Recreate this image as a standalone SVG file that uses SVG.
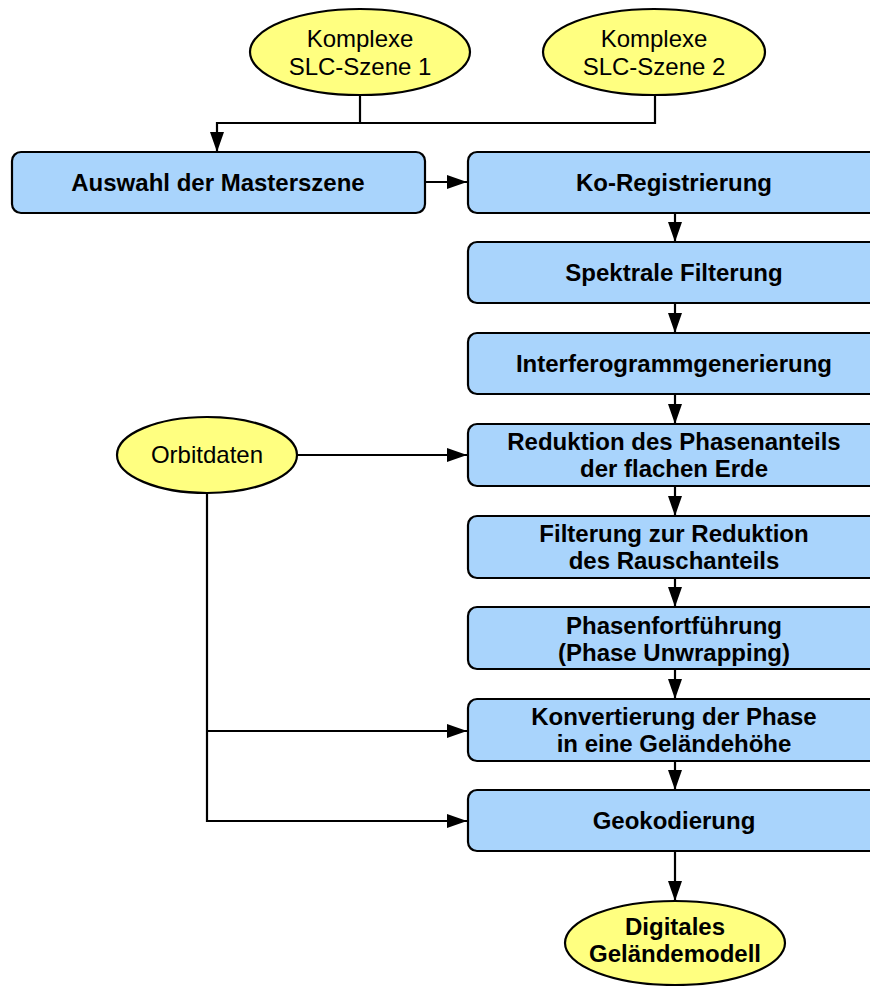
<svg xmlns="http://www.w3.org/2000/svg" width="870" height="986" viewBox="0 0 870 986">
  <style>
    .box { fill: #a9d4fc; stroke: #000; stroke-width: 2.2; }
    .ell { fill: #ffff80; stroke: #000; stroke-width: 2.2; }
    .b { font-family: "Liberation Sans", Arial, sans-serif; font-size: 24px; font-weight: bold; text-anchor: middle; fill: #000; }
    .r { font-family: "Liberation Sans", Arial, sans-serif; font-size: 24px; text-anchor: middle; fill: #000; }
    .c { fill: none; stroke: #000; stroke-width: 2.2; }
  </style>
  <defs>
    <marker id="arr" viewBox="0 0 20 14" refX="20" refY="7" markerWidth="20" markerHeight="14" markerUnits="userSpaceOnUse" orient="auto">
      <path d="M0,0 L20,7 L0,14 Z" fill="#000"/>
    </marker>
  </defs>
  <rect width="870" height="986" fill="#fff"/>

  <!-- connectors -->
  <g id="connectors">
    <path class="c" d="M360,95 V123"/>
    <path class="c" d="M655,95 V123 H217 V152" marker-end="url(#arr)"/>
    <path class="c" d="M425,182 H467" marker-end="url(#arr)"/>
    <path class="c" d="M675,213 V242" marker-end="url(#arr)"/>
    <path class="c" d="M675,303 V333" marker-end="url(#arr)"/>
    <path class="c" d="M675,394 V424" marker-end="url(#arr)"/>
    <path class="c" d="M675,486 V516" marker-end="url(#arr)"/>
    <path class="c" d="M675,578 V607" marker-end="url(#arr)"/>
    <path class="c" d="M675,669 V699" marker-end="url(#arr)"/>
    <path class="c" d="M675,761 V790" marker-end="url(#arr)"/>
    <path class="c" d="M675,851 V901" marker-end="url(#arr)"/>
    <path class="c" d="M297,455 H467" marker-end="url(#arr)"/>
    <path class="c" d="M207,493 V821 H467" marker-end="url(#arr)"/>
    <path class="c" d="M207,731 H467" marker-end="url(#arr)"/>
  </g>

  <g id="slc1">
    <ellipse class="ell" cx="360" cy="52" rx="110" ry="43"/>
    <text class="r" x="360" y="47">Komplexe</text>
    <text class="r" x="360" y="75">SLC-Szene 1</text>
  </g>
  <g id="slc2">
    <ellipse class="ell" cx="654" cy="52" rx="111" ry="43"/>
    <text class="r" x="654" y="47">Komplexe</text>
    <text class="r" x="654" y="75">SLC-Szene 2</text>
  </g>

  <g id="masterszene">
    <rect class="box" x="12" y="152" width="413" height="61" rx="9"/>
    <text class="b" x="218" y="191">Auswahl der Masterszene</text>
  </g>
  <g id="koregistrierung">
    <rect class="box" x="468" y="152" width="412" height="61" rx="9"/>
    <text class="b" x="674" y="191">Ko-Registrierung</text>
  </g>
  <g id="filterung">
    <rect class="box" x="468" y="242" width="412" height="61" rx="9"/>
    <text class="b" x="674" y="281">Spektrale Filterung</text>
  </g>
  <g id="interferogramm">
    <rect class="box" x="468" y="333" width="412" height="61" rx="9"/>
    <text class="b" x="674" y="372">Interferogrammgenerierung</text>
  </g>
  <g id="reduktion">
    <rect class="box" x="468" y="424" width="412" height="62" rx="9"/>
    <text class="b" x="674" y="450">Reduktion des Phasenanteils</text>
    <text class="b" x="674" y="477">der flachen Erde</text>
  </g>
  <g id="rauschen">
    <rect class="box" x="468" y="516" width="412" height="62" rx="9"/>
    <text class="b" x="674" y="542">Filterung zur Reduktion</text>
    <text class="b" x="674" y="569">des Rauschanteils</text>
  </g>
  <g id="unwrapping">
    <rect class="box" x="468" y="607" width="412" height="62" rx="9"/>
    <text class="b" x="674" y="634">Phasenfortführung</text>
    <text class="b" x="674" y="661">(Phase Unwrapping)</text>
  </g>
  <g id="konvertierung">
    <rect class="box" x="468" y="699" width="412" height="62" rx="9"/>
    <text class="b" x="674" y="725">Konvertierung der Phase</text>
    <text class="b" x="674" y="752">in eine Geländehöhe</text>
  </g>
  <g id="geokodierung">
    <rect class="box" x="468" y="790" width="412" height="61" rx="9"/>
    <text class="b" x="674" y="829">Geokodierung</text>
  </g>

  <g id="orbitdaten">
    <ellipse class="ell" cx="207" cy="455" rx="90" ry="38"/>
    <text class="r" x="207" y="463">Orbitdaten</text>
  </g>
  <g id="dgm">
    <ellipse class="ell" cx="675" cy="943" rx="110" ry="42"/>
    <text class="b" x="675" y="935">Digitales</text>
    <text class="b" x="675" y="962">Geländemodell</text>
  </g>
</svg>
